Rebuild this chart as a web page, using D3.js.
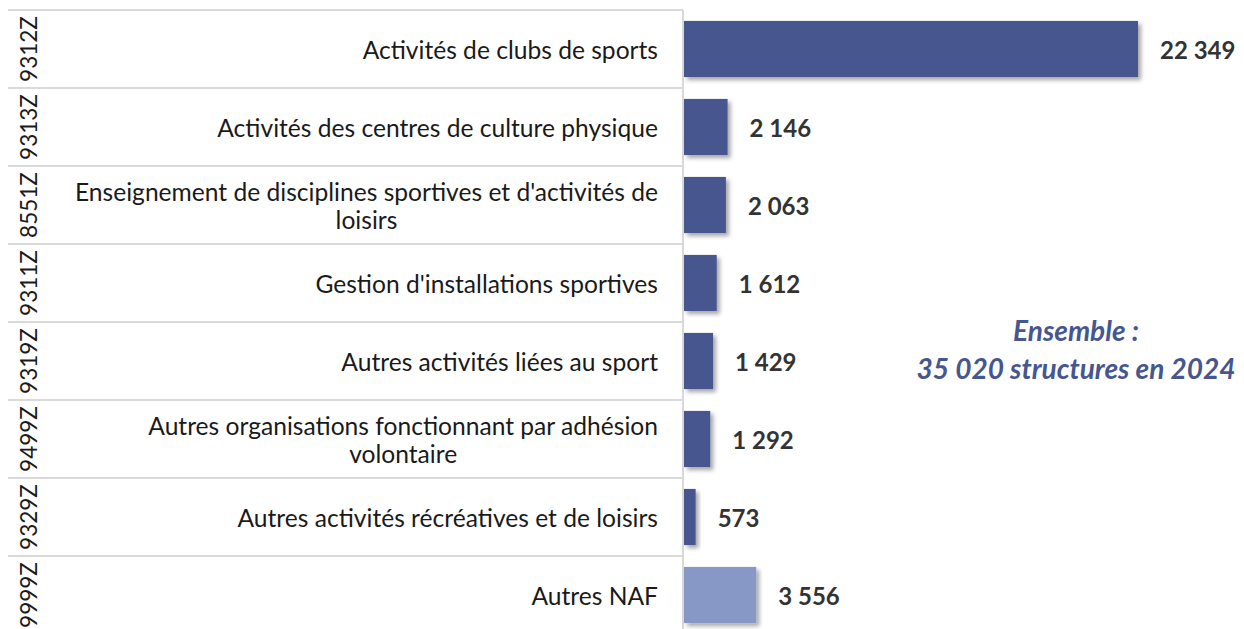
<!DOCTYPE html>
<html>
<head>
<meta charset="utf-8">
<script src="https://cdn.jsdelivr.net/npm/d3@7"></script>
<style>
    body { margin: 0; background: #fff; }
    svg { display: block; font-family: Lato, "Open Sans", sans-serif; }
</style>
</head>
<body>
<div id="chart"></div>
<script>

// data
let codes = ["9312Z", "9313Z", "8551Z", "9311Z", "9319Z", "9499Z", "9329Z", "9999Z"];
let labels = [
    "Activités de clubs de sports",
    "Activités des centres de culture physique",
    "Enseignement de disciplines sportives et d'activités de\nloisirs",
    "Gestion d'installations sportives",
    "Autres activités liées au sport",
    "Autres organisations fonctionnant par adhésion\nvolontaire",
    "Autres activités récréatives et de loisirs",
    "Autres NAF"
];
let values = [22349, 2146, 2063, 1612, 1429, 1292, 573, 3556];
let valueLabels = ["22 349", "2 146", "2 063", "1 612", "1 429", "1 292", "573", "3 556"];
let totalText = ["Ensemble :", "35 020 structures en 2024"];

let rows = codes.map((c, i) => ({code: c, label: labels[i], value: values[i], text: valueLabels[i]}));

let width = 1244, height = 629;

let svg = d3.select("#chart").append("svg")
    .attr("width", width)
    .attr("height", height);

// drop shadow for bars
let defs = svg.append("defs");
defs.append("filter")
    .attr("id", "shadow")
    .attr("x", "-20%").attr("y", "-20%")
    .attr("width", "160%").attr("height", "160%")
    .append("feDropShadow")
    .attr("dx", 3).attr("dy", 3)
    .attr("stdDeviation", 2)
    .attr("flood-color", "#000")
    .attr("flood-opacity", 0.35);

// scales
let yRow = d3.scaleBand()
    .domain(codes)
    .range([10, 634])
    .padding(0);

let yBar = d3.scaleBand()
    .domain(codes)
    .range([10, 634])
    .paddingInner(0.28)
    .paddingOuter(0.14);

let x = d3.scaleLinear()
    .domain([0, d3.max(values)])
    .range([684, 1138]);

// table grid lines
svg.append("g")
    .selectAll("line")
    .data(codes)
    .join("line")
    .attr("x1", 8)
    .attr("x2", 683)
    .attr("y1", d => yRow(d))
    .attr("y2", d => yRow(d))
    .attr("stroke", "#d9d9d9")
    .attr("stroke-width", 2);

svg.append("line")
    .attr("x1", 683).attr("x2", 683)
    .attr("y1", 10).attr("y2", height)
    .attr("stroke", "#d9d9d9")
    .attr("stroke-width", 2);

// NAF codes, rotated
svg.append("g")
    .selectAll("text")
    .data(rows)
    .join("text")
    .attr("transform", d => `translate(28, ${yRow(d.code) + yRow.bandwidth() / 2}) rotate(-90)`)
    .attr("text-anchor", "middle")
    .attr("dominant-baseline", "central")
    .style("font-size", "22.5px")
    .style("fill", "#1a1a1a")
    .text(d => d.code);

// category labels
let lab = svg.append("g")
    .selectAll("text")
    .data(rows)
    .join("text")
    .attr("text-anchor", "end")
    .style("font-size", "24.6px")
    .style("fill", "#1a1a1a");

lab.each(function(d) {
    let lines = d.label.split("\n");
    let cy = yRow(d.code) + yRow.bandwidth() / 2;
    let lh = 28;
    let t = d3.select(this);
    lines.forEach((l, i) => {
        t.append("tspan")
            .attr("x", 658)
            .attr("y", cy + (i - (lines.length - 1) / 2) * lh)
            .attr("dominant-baseline", "central")
            .attr("text-anchor", i === 0 ? "end" : "middle")
            .text(l);
    });
});

// second lines of wrapped labels are centred under the first line
lab.each(function() {
    let spans = d3.select(this).selectAll("tspan").nodes();
    if (spans.length > 1) {
        let w = spans[0].getComputedTextLength();
        spans.slice(1).forEach(s => d3.select(s).attr("x", 658 - w / 2));
    }
});

// bars
svg.append("g")
    .selectAll("rect")
    .data(rows)
    .join("rect")
    .attr("x", x(0))
    .attr("y", d => yBar(d.code))
    .attr("width", d => x(d.value) - x(0))
    .attr("height", yBar.bandwidth())
    .attr("fill", d => d.code === "9999Z" ? "#8797c6" : "#46568f")
    .attr("filter", "url(#shadow)");

// value labels
svg.append("g")
    .selectAll("text")
    .data(rows)
    .join("text")
    .attr("x", d => x(d.value) + 22)
    .attr("y", d => yBar(d.code) + yBar.bandwidth() / 2)
    .attr("dominant-baseline", "central")
    .style("font-size", "24px")
    .style("font-weight", "bold")
    .style("fill", "#333")
    .text(d => d.text);

// total annotation
svg.append("g")
    .selectAll("text")
    .data(totalText)
    .join("text")
    .attr("x", 1076)
    .attr("y", (d, i) => 330 + i * 38)
    .attr("text-anchor", "middle")
    .attr("dominant-baseline", "central")
    .style("font-size", "28px")
    .style("font-weight", "bold")
    .style("font-style", "italic")
    .style("fill", "#46568f")
    .text(d => d);

</script>
</body>
</html>
